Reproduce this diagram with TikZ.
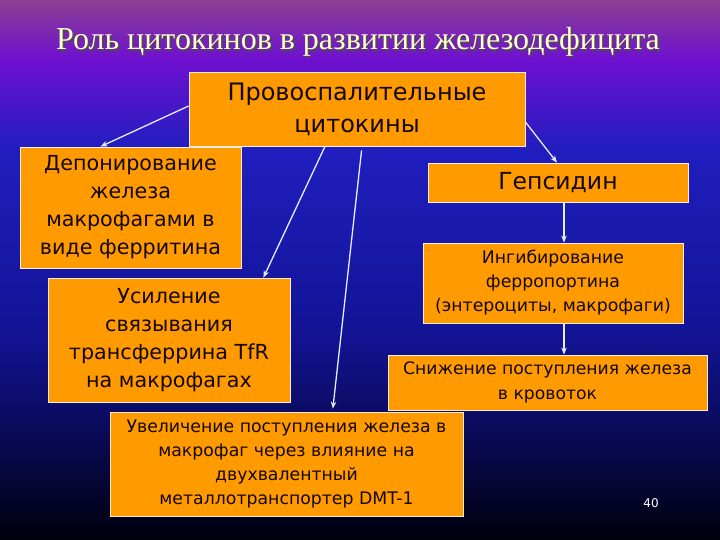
\documentclass[tikz,border=0pt]{standalone}
\usepackage{fontspec}
\usepackage{tikz}
\usetikzlibrary{positioning, calc, arrows.meta}
\newfontfamily\boxfont{DejaVu Sans}
\newfontfamily\titlefont{Liberation Serif}
\definecolor{boxorange}{HTML}{FF9A00}
\definecolor{boxtext}{HTML}{140800}
\definecolor{arrowwhite}{HTML}{E4ECFF}
\definecolor{titlecol}{HTML}{FFFFCC}
\tikzset{box/.style = {draw=white!85!orange, fill=boxorange, line width=0.8pt, align=center, inner sep=0pt, text=boxtext, font=\boxfont}}
\tikzset{arr/.style = {draw=arrowwhite, line width=1.3pt, -{Stealth[length=7pt,width=5.5pt]}}}

\begin{document}
\begin{tikzpicture}[x=1pt, y=-1pt]
            \useasboundingbox (0,0) rectangle (720,540);
            % background
            \shade[top color={rgb,255:red,139;green,64;blue,146}, bottom color={rgb,255:red,110;green,16;blue,208}] (0,0) rectangle (720,60);
            \shade[top color={rgb,255:red,110;green,16;blue,208}, bottom color={rgb,255:red,32;green,30;blue,190}] (0,60) rectangle (720,150);
            \shade[top color={rgb,255:red,32;green,30;blue,190}, bottom color={rgb,255:red,18;green,20;blue,150}] (0,150) rectangle (720,330);
            \shade[top color={rgb,255:red,18;green,20;blue,150}, bottom color={rgb,255:red,10;green,10;blue,90}] (0,330) rectangle (720,430);
            \shade[top color={rgb,255:red,10;green,10;blue,90}, bottom color={rgb,255:red,0;green,0;blue,12}] (0,430) rectangle (720,540);

            \node [font=\titlefont\fontsize{32}{34}\selectfont, text=black!70] (shadow) at (359.5,43.5) {Роль цитокинов в развитии железодефицита};
            \node [font=\titlefont\fontsize{32}{34}\selectfont, text=titlecol] (title) at (358,42) {Роль цитокинов в развитии железодефицита};

            \node [box, minimum width=336, minimum height=74, font=\boxfont\fontsize{24}{32}\selectfont] (cyt) at (357,109) {Провоспалительные\\цитокины};
            \node [box, minimum width=221, minimum height=121, font=\boxfont\fontsize{20.7}{28}\selectfont] (depo) at (130.5,207.5) {Депонирование\\железа\\макрофагами в\\виде ферритина};
            \node [box, minimum width=242, minimum height=124, font=\boxfont\fontsize{20.7}{28}\selectfont] (tfr) at (169,340) {Усиление\\связывания\\трансферрина TfR\\на макрофагах};
            \node [box, minimum width=260, minimum height=39, font=\boxfont\fontsize{23.5}{28}\selectfont] (hep) at (558,182.5) {Гепсидин};
            \node [box, minimum width=260, minimum height=80, font=\boxfont\fontsize{17.3}{24}\selectfont] (ferro) at (553,283) {Ингибирование\\ферропортина\\(энтероциты, макрофаги)};
            \node [box, minimum width=319, minimum height=55, font=\boxfont\fontsize{17.2}{25}\selectfont] (drop) at (547.5,382.5) {Снижение поступления железа\\в кровоток};
            \node [box, minimum width=353, minimum height=104, font=\boxfont\fontsize{17.3}{24}\selectfont] (dmt) at (286.5,464) {Увеличение поступления железа в\\макрофаг через влияние на\\двухвалентный\\металлотранспортер DMT-1};

            \node [font=\boxfont\fontsize{12}{14}\selectfont, text=white] (page) at (651,503) {40};

            \draw [arr] ([yshift=3pt]cyt.west) -- ([xshift=-30pt]depo.north);
            \draw [arr] ([xshift=-32pt]cyt.south) -- ([xshift=-27pt]tfr.north east);
            \draw [arr, shorten <=4pt, shorten >=3pt] ([xshift=5pt]cyt.south) -- ([xshift=46pt]dmt.north);
            \draw [arr] ([yshift=-13pt]cyt.east) -- ([xshift=-1pt]hep.north);
            \draw [arr] ([xshift=6pt]hep.south) -- ([xshift=6pt]hep.south |- ferro.north);
            \draw [arr] ([xshift=11pt]ferro.south) -- ([xshift=11pt]ferro.south |- drop.north);
        \end{tikzpicture}
\end{document}
